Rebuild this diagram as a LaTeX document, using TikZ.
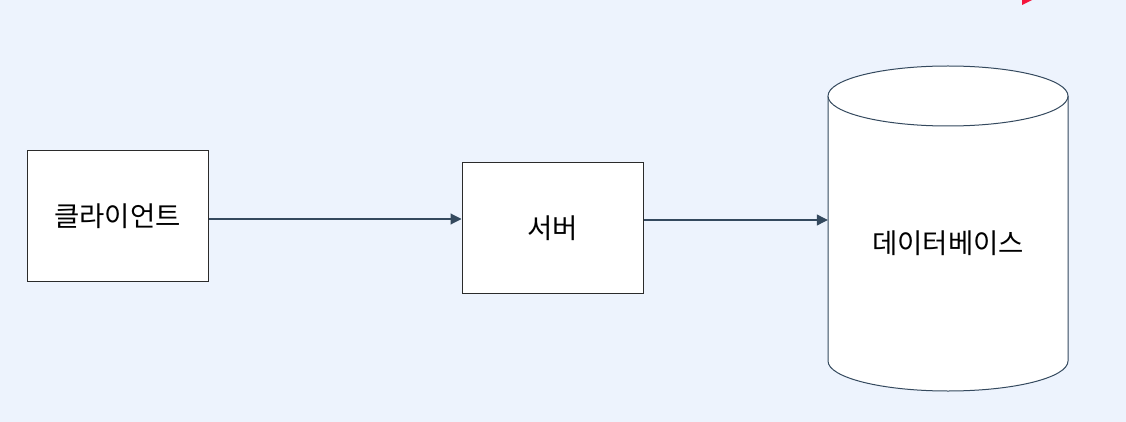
\documentclass[tikz,border=0pt]{standalone}
\usepackage{fontspec}
\newfontfamily\kr{Noto Sans CJK KR}
\usetikzlibrary{arrows.meta}
\definecolor{bg}{HTML}{EDF3FD}
\definecolor{edge}{HTML}{34495E}
\definecolor{boxline}{HTML}{2B2B2B}
\definecolor{redtip}{HTML}{F5153C}
\tikzset{
  box/.style={draw=boxline, line width=1pt, fill=white, minimum width=181pt, minimum height=130pt, inner sep=0pt, font=\kr\fontsize{27.5}{30}\selectfont},
  conn/.style={draw=edge, line width=1.1pt, -{Triangle[length=11pt,width=11pt]}},
}
\begin{document}
\begin{tikzpicture}[x=1pt,y=-1pt]
\fill[bg] (0,0) rectangle (1126,422);
\useasboundingbox (0,0) rectangle (1126,422);
\fill[redtip] (1022,0) -- (1032,0) -- (1022,5) -- cycle;
\node[box] (cl) at (117.5,216) {클라이언트};
\node[box] (srv) at (552.5,228) {서버};
% database cylinder
\fill[white] (828,96) -- (828,361) arc[start angle=180,end angle=0,x radius=120,y radius=30] -- (1068,96) -- cycle;
\draw[edge, line width=1pt] (828,96) -- (828,361) arc[start angle=180,end angle=0,x radius=120,y radius=30] -- (1068,96);
\draw[edge, line width=1pt, fill=white] (948,96) ellipse[x radius=120,y radius=30];
\node[minimum width=240pt, minimum height=326pt, inner sep=0pt] (db) at (948,228) {};
\node[font=\kr\fontsize{27.5}{30}\selectfont] (dblabel) at (948,243) {데이터베이스};
\draw[conn] ([yshift=-3pt]cl.east) -- ([yshift=9pt]srv.west);
\draw[conn] ([yshift=8pt]srv.east) -- ([yshift=8pt]db.west);
\end{tikzpicture}
\end{document}
